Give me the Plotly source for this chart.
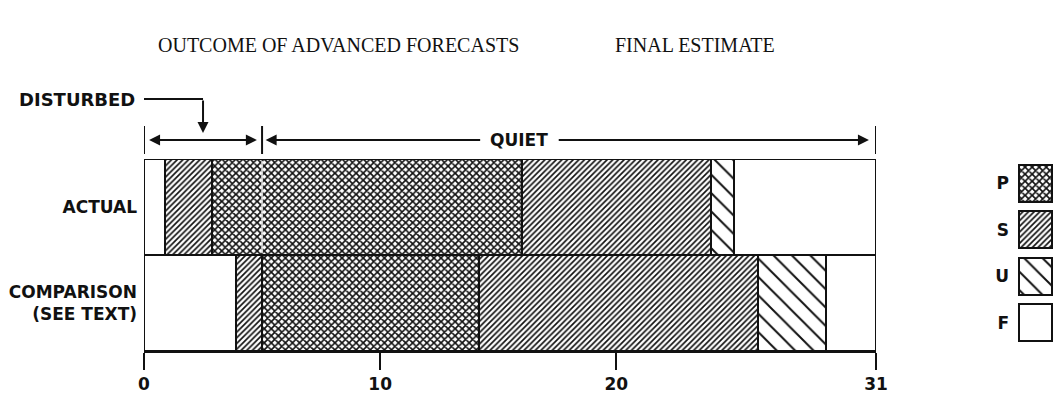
import plotly.graph_objects as go

# ---------------- data ----------------
rows = ["ACTUAL", "COMPARISON"]
row_labels = ["ACTUAL", "COMPARISON<br>(SEE TEXT)"]
actual_classes = ["F", "S", "P", "S", "U", "F"]
actual_edges = [0, 0.9, 2.9, 16, 24, 25, 31]
comparison_classes = ["F", "S", "P", "S", "U", "F"]
comparison_edges = [0, 3.9, 5, 14.2, 26, 28.9, 31]
period_edges = [0, 5, 31]          # disturbed | quiet boundaries (days)
period_names = ["DISTURBED", "QUIET"]
x_ticks = [0, 10, 20, 31]
legend_classes = ["P", "S", "U", "F"]
title_left = "OUTCOME OF ADVANCED FORECASTS"
title_right = "FINAL ESTIMATE"

# ---------------- styles ----------------
W, H = 1062, 401
FONT = "DejaVu Sans"
SERIF = "Liberation Serif"
INK = "#111111"
patterns = {
    "P": dict(shape="x", size=5, solidity=0.55),
    "S": dict(shape="/", size=4, solidity=0.42),
    "U": dict(shape="\\", size=13, solidity=0.15),
    "F": dict(shape=""),
}
LABEL_FONT = dict(family=FONT, size=17, color=INK, weight="bold")


def py(pix):
    """pixel row (from top) -> paper y"""
    return (H - pix) / H


def px(pix):
    return pix / W


def marker_for(cls):
    p = dict(patterns[cls])
    if p["shape"]:
        p.update(fgcolor=INK, bgcolor="white", fillmode="replace")
    return dict(color="white", line=dict(color=INK, width=2), pattern=p)


fig = go.Figure()

for row, classes, edges in [(rows[0], actual_classes, actual_edges),
                            (rows[1], comparison_classes, comparison_edges)]:
    for i, cls in enumerate(classes):
        fig.add_trace(go.Bar(
            y=[row], x=[edges[i + 1] - edges[i]], base=[edges[i]],
            orientation="h", width=1, marker=marker_for(cls),
            showlegend=False, hoverinfo="skip",
            xaxis="x", yaxis="y"))

# legend swatches as a small subplot
for cls in legend_classes:
    fig.add_trace(go.Bar(
        y=[cls], x=[1], base=[0], orientation="h", width=0.8,
        marker=marker_for(cls), showlegend=False, hoverinfo="skip",
        xaxis="x2", yaxis="y2"))

x0p, x1p = 144, 876
fig.update_layout(
    template="none",
    width=W, height=H, margin=dict(l=0, r=0, t=0, b=0, autoexpand=False),
    paper_bgcolor="white", plot_bgcolor="white",
    barmode="overlay", bargap=0,
    font=dict(family=FONT, color=INK),
    xaxis=dict(domain=[px(x0p), px(x1p)], range=[0, 31], automargin=False,
               tickvals=x_ticks, ticktext=[str(t) for t in x_ticks],
               showline=True, linecolor=INK, linewidth=2,
               ticks="outside", ticklen=17, tickwidth=2, tickcolor=INK,
               showgrid=False, zeroline=False, anchor="y",
               tickfont=LABEL_FONT, fixedrange=True),
    yaxis=dict(domain=[py(351), py(159)], type="category", automargin=False,
               categoryorder="array", categoryarray=[rows[1], rows[0]],
               range=[-0.5, 1.5], tickvals=[rows[0], rows[1]],
               ticktext=row_labels, showline=False, showgrid=False,
               zeroline=False, ticks="", ticklabelstandoff=6,
               tickfont=LABEL_FONT, anchor="x", fixedrange=True),
    xaxis2=dict(domain=[px(1018), px(1053)], range=[-0.03, 1.03],
                visible=False, anchor="y2", fixedrange=True, automargin=False),
    yaxis2=dict(domain=[py(346), py(160)], type="category", automargin=False,
                categoryorder="array", categoryarray=legend_classes[::-1],
                range=[-0.5, 3.5], showline=False, showgrid=False,
                zeroline=False, ticks="", ticklabelstandoff=8,
                tickfont=LABEL_FONT, anchor="x2", fixedrange=True),
)

# thin light division between disturbed and quiet inside the ACTUAL P block
fig.add_shape(type="line", xref="x", yref="y", x0=period_edges[1], x1=period_edges[1],
              y0=0.52, y1=1.48, line=dict(color="#e8e8e8", width=1.5))

# period brackets
for e in period_edges:
    fig.add_shape(type="line", xref="x", yref="paper", x0=e, x1=e,
                  y0=py(154), y1=py(126), line=dict(color=INK, width=2))

arrow_y = py(140)
# disturbed double arrow
fig.add_annotation(x=period_edges[1] - 0.22, y=arrow_y, ax=period_edges[0] + 0.15, ay=0,
                   xref="x", yref="paper", axref="x", ayref="pixel",
                   showarrow=True, arrowhead=2, startarrowhead=2, arrowside="end+start",
                   arrowsize=1.1, startarrowsize=1.1, arrowwidth=2, arrowcolor=INK, text="")
# quiet arrows + label
quiet_label_x = 15.9
fig.add_annotation(x=period_edges[1] + 0.15, y=arrow_y, ax=quiet_label_x - 1.6, ay=0,
                   xref="x", yref="paper", axref="x", ayref="pixel",
                   showarrow=True, arrowhead=2, arrowsize=1.1, arrowwidth=2,
                   arrowcolor=INK, text="")
fig.add_annotation(x=period_edges[2] - 0.3, y=arrow_y, ax=quiet_label_x + 1.6, ay=0,
                   xref="x", yref="paper", axref="x", ayref="pixel",
                   showarrow=True, arrowhead=2, arrowsize=1.1, arrowwidth=2,
                   arrowcolor=INK, text="")
fig.add_annotation(x=quiet_label_x, y=arrow_y, xref="x", yref="paper",
                   xanchor="center", yanchor="middle",
                   text=period_names[1], showarrow=False, font=LABEL_FONT)

# disturbed callout
dist_x = (period_edges[0] + period_edges[1]) / 2
fig.add_annotation(x=px(137), y=py(99), xref="paper", yref="paper",
                   xanchor="right", yanchor="middle", text=period_names[0],
                   showarrow=False, font=dict(LABEL_FONT, size=18))
fig.add_shape(type="line", xref="x", yref="paper", x0=-0.2, x1=dist_x,
              y0=py(99), y1=py(99), line=dict(color=INK, width=2))
fig.add_annotation(x=dist_x, y=py(133), ax=0, ay=-34, xref="x", yref="paper",
                   showarrow=True, arrowhead=2, arrowsize=1.1, arrowwidth=2,
                   arrowcolor=INK, text="")

# titles
fig.add_annotation(x=px(338), y=py(45), xref="paper", yref="paper",
                   xanchor="center", yanchor="middle",
                   text=title_left, showarrow=False,
                   font=dict(family=SERIF, size=20, color=INK))
fig.add_annotation(x=px(695), y=py(45), xref="paper", yref="paper",
                   xanchor="center", yanchor="middle",
                   text=title_right, showarrow=False,
                   font=dict(family=SERIF, size=20, color=INK))

fig.write_html("out.html", config={"displayModeBar": False},
               post_script="document.body.style.margin='0';document.body.style.overflow='hidden';")
